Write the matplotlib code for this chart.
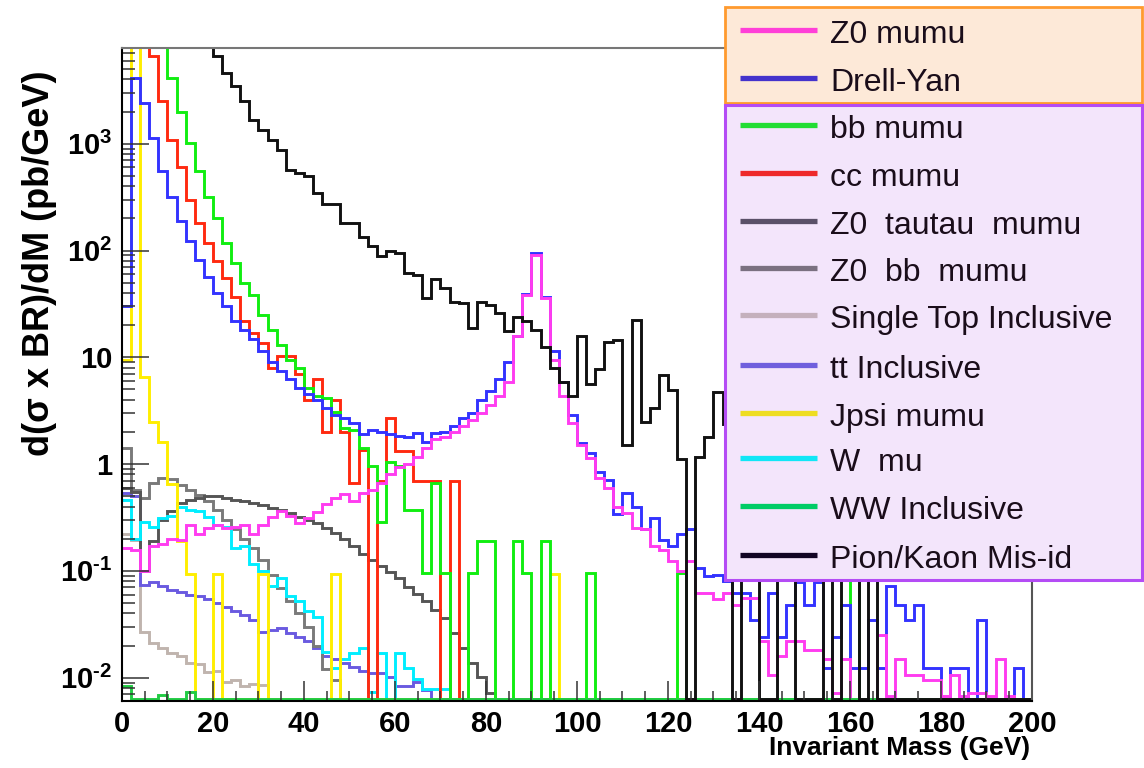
import numpy as np
import matplotlib
matplotlib.use('Agg')
import matplotlib.pyplot as plt
from matplotlib.ticker import MultipleLocator, FixedLocator, FuncFormatter, LogLocator, NullFormatter
from matplotlib.patches import Rectangle
from matplotlib.lines import Line2D

# 2 GeV bins from 0 to 200 GeV, values in pb/GeV (0 = empty bin)
bin_edges = list(range(0, 202, 2))

pion_kaon = [
    60000, 45000, 35000, 28000, 22000, 17000, 14000, 11000, 9500, 8500,
    6600, 4600, 3450, 2500, 1680, 1350, 1090, 880, 570, 530,
    495, 345, 270, 275, 180, 180, 134, 110, 88, 100,
    95, 61, 59, 36, 54, 45, 33, 32, 19, 33,
    31, 26, 17.5, 24, 22, 18, 12.4, 8.0, 5.9, 4.3,
    15.7, 5.6, 7.8, 13.8, 14.4, 1.5, 22.5, 2.5, 3.35, 6.9,
    4.9, 1.12, 0, 1.17, 1.8, 4.7, 2.35, 0, 1.5, 0.8,
    0, 0, 1.2, 0.6, 0, 0, 0, 0.5, 0, 0.7,
    0.4, 0, 0.3] + [0] * 17

bb_mumu = [
    30000, 22000, 16000, 11000, 8300, 4100, 2000, 1015, 550, 320,
    200, 117, 76, 50, 38.5, 25, 18, 13, 9.5, 8.0,
    5.2, 4.3, 4.2, 3.1, 2.2, 2.1, 1.4, 0.95, 0.29, 1.05,
    0.95, 0.37, 0.37, 0.095, 0.66, 0.095, 0, 0, 0.095, 0.19,
    0.19, 0, 0, 0.19, 0.095, 0, 0.19, 0, 0, 0,
    0, 0.095, 0, 0, 0, 0, 0, 0, 0, 0,
    0, 0.095, 0, 0, 0, 0, 0, 0, 0, 0,
    0, 0, 0, 0, 0, 0, 0, 0, 0, 0,
    0.19] + [0] * 19

cc_mumu = [
    40000, 20000, 9000, 6600, 2500, 1090, 610, 300, 180, 117,
    79, 55, 37, 22, 17, 13.5, 7.9, 10.3, 10.3, 7.0,
    4.0, 6.2, 2.0, 4.0, 2.0, 0.66, 1.36, 0, 0.69, 2.7,
    1.32, 1.32, 0.69, 0.69, 0.69, 0, 0.69] + [0] * 63

drell_yan = [
    30, 4100, 2400, 1130, 550, 320, 187, 122, 82, 57,
    40, 30, 22, 18, 15, 11.4, 9.1, 7.5, 6.3, 5.2,
    4.5, 4.0, 3.35, 2.9, 2.7, 2.4, 1.9, 2.1, 2.0, 1.9,
    1.85, 1.8, 1.95, 1.6, 1.95, 2.0, 2.25, 2.7, 3.0, 4.0,
    4.8, 6.2, 9.1, 16, 39, 95, 37, 11.4, 5.9, 2.9,
    1.57, 1.26, 0.85, 0.71, 0.34, 0.54, 0.40, 0.245, 0.31, 0.195,
    0.17, 0.22, 0.245, 0.107, 0.09, 0.092, 0.08, 0.062, 0.062, 0.035,
    0.024, 0.062, 0.024, 0.048, 0.079, 0.048, 0.079, 0.0124, 0.024, 0.048,
    0.0124, 0.0124, 0.035, 0.0124, 0.072, 0.048, 0.035, 0.048, 0.0124, 0.0124,
    0, 0.0124, 0.0124, 0, 0.035, 0, 0, 0, 0.0124, 0]

z0_mumu = [
    0.164, 0.158, 0.1, 0.17, 0.18, 0.2, 0.195, 0.27, 0.22, 0.25,
    0.27, 0.25, 0.26, 0.27, 0.22, 0.27, 0.32, 0.36, 0.33, 0.28,
    0.31, 0.355, 0.42, 0.48, 0.52, 0.45, 0.54, 0.575, 0.66, 0.8,
    0.93, 1.0, 1.17, 1.42, 1.7, 1.8, 2.0, 2.25, 2.6, 3.0,
    3.6, 4.3, 5.9, 15.7, 38, 91, 36, 9.5, 4.3, 2.4,
    1.5, 1.14, 0.74, 0.6, 0.40, 0.35, 0.25, 0.245, 0.17, 0.158,
    0.123, 0.1, 0.123, 0.062, 0.062, 0.054, 0.062, 0.048, 0.056, 0.056,
    0.022, 0.0106, 0.016, 0.022, 0.022, 0.018, 0.018, 0.015, 0.0072, 0.015,
    0, 0, 0, 0.025, 0.0068, 0.015, 0.0106, 0.0106, 0.0095, 0.0095,
    0.0068, 0.0106, 0.0068, 0.0072, 0.0072, 0.0068, 0.015, 0.0068, 0, 0]

z0_tautau = [
    0.6, 0.55, 0.1, 0.19, 0.30, 0.36, 0.43, 0.46, 0.48, 0.50,
    0.50, 0.48, 0.46, 0.45, 0.43, 0.41, 0.39, 0.37, 0.35, 0.32,
    0.30, 0.28, 0.25, 0.225, 0.20, 0.17, 0.145, 0.127, 0.11, 0.097,
    0.086, 0.071, 0.061, 0.052, 0.043, 0.036, 0.026, 0.019, 0.0137, 0.0101,
    0.0072] + [0] * 59

z0_bb = [
    1.4, 0.575, 0.48, 0.66, 0.74, 0.72, 0.64, 0.575, 0.51, 0.45,
    0.37, 0.30, 0.245, 0.20, 0.164, 0.127, 0.092, 0.069, 0.052, 0.04,
    0.03, 0.02, 0.012, 0.0096] + [0] * 76

single_top = [
    0.22, 0.195, 0.027, 0.021, 0.019, 0.017, 0.016, 0.0137, 0.0135, 0.0113,
    0.0115, 0.0092, 0.0096, 0.0083, 0.0088, 0.0086] + [0] * 84

tt_incl = [
    0.54, 0.5, 0.074, 0.079, 0.072, 0.066, 0.064, 0.060, 0.058, 0.054,
    0.050, 0.046, 0.042, 0.039, 0.035, 0.027, 0.028, 0.029, 0.026, 0.024,
    0.022, 0.019, 0.016, 0.015, 0.0138, 0.0125, 0.0115, 0.011, 0.011, 0.0101,
    0.0083, 0.0083, 0.0092, 0.0076] + [0] * 66

jpsi_mumu = [
    9.5, 20000, 6.5, 2.5, 1.6, 0.65, 0.19, 0.093, 0, 0,
    0.093, 0, 0, 0, 0, 0.093, 0, 0, 0, 0,
    0, 0, 0, 0.093, 0, 0, 0, 0, 0, 0,
    0, 0, 0, 0, 0, 0, 0, 0, 0, 0,
    0, 0, 0, 0, 0, 0, 0, 0.093] + [0] * 52

w_mu = [
    0.46, 0.20, 0.29, 0.26, 0.31, 0.33, 0.40, 0.37, 0.36, 0.32,
    0.27, 0.26, 0.164, 0.17, 0.116, 0.1, 0.072, 0.086, 0.058, 0.052,
    0.042, 0.037, 0.0174, 0.0124, 0.015, 0.017, 0.019, 0.0074, 0.017, 0,
    0.017, 0.0124, 0.0097, 0.0079, 0.0079, 0.0079] + [0] * 64

ww_incl = [0.0083, 0, 0, 0, 0.0069, 0, 0, 0.0074] + [0] * 92

# drawing order (last is on top)
hists = [
    (single_top, '#c0b4ae'),
    (tt_incl, '#6a5ae0'),
    (z0_bb, '#7a7a7a'),
    (z0_tautau, '#555555'),
    (w_mu, '#00eeff'),
    (jpsi_mumu, '#ffee00'),
    (cc_mumu, '#ff2a10'),
    (bb_mumu, '#11ee11'),
    (drell_yan, '#3333ff'),
    (z0_mumu, '#ff3cf0'),
    (ww_incl, '#22cc44'),
    (pion_kaon, '#111111'),
]

legend_labels = ['Z0 mumu', 'Drell-Yan', 'bb mumu', 'cc mumu', 'Z0  tautau  mumu',
                 'Z0  bb  mumu', 'Single Top Inclusive', 'tt Inclusive', 'Jpsi mumu',
                 'W  mu', 'WW Inclusive', 'Pion/Kaon Mis-id']
legend_colors = ['#ff3fd8', '#4433cc', '#22dd33', '#ee2a2a', '#5a5068', '#7a7080',
                 '#c4b0bc', '#6f5fdd', '#eedd22', '#11e6f6', '#00cc66', '#120524']

plt.rcParams['font.family'] = ['Liberation Sans', 'DejaVu Sans']
plt.rcParams['font.weight'] = 'bold'
plt.rcParams['mathtext.fontset'] = 'custom'
plt.rcParams['mathtext.rm'] = 'Liberation Sans:bold'
plt.rcParams['mathtext.bf'] = 'Liberation Sans:bold'
plt.rcParams['mathtext.default'] = 'bf'

W, H = 1144, 768
fig = plt.figure(figsize=(W / 100, H / 100), dpi=100)
ax = fig.add_axes([0.10664, 0.08659, 0.79545, 0.85156])

ymin, ymax = 10 ** -2.223, 10 ** 3.901
floor = ymin * 1.06
edges = np.array(bin_edges)
for vals, col in hists:
    v = np.clip(np.array(vals, dtype=float), floor, None)
    ax.stairs(v, edges, color=col, lw=2.1, baseline=None)

ax.set_xlim(0, 200)
ax.set_yscale('log')
ax.set_ylim(ymin, ymax)

ax.xaxis.set_major_locator(MultipleLocator(20))
ax.xaxis.set_minor_locator(MultipleLocator(5))
ax.yaxis.set_major_locator(FixedLocator([1e-2, 1e-1, 1, 10, 1e2, 1e3]))
ax.yaxis.set_minor_locator(LogLocator(base=10, subs=np.arange(2, 10), numticks=100))
ax.yaxis.set_minor_formatter(NullFormatter())


def ylab(v, pos):
    e = int(round(np.log10(v)))
    if e == 0:
        return '1'
    if e == 1:
        return '10'
    if e < 0:
        return r'$10^{\text{-}%d}$' % (-e)
    return r'$10^{%d}$' % e


ax.yaxis.set_major_formatter(FuncFormatter(ylab))
ax.tick_params(axis='x', which='major', direction='in', length=14.4, width=1.1, color='#333333', labelsize=21, pad=6)
ax.tick_params(axis='x', which='minor', direction='in', length=7.2, width=1.1, color='#333333')
ax.tick_params(axis='y', which='major', direction='in', length=19.4, width=1.1, color='#333333', labelsize=21, pad=7)
ax.tick_params(axis='y', which='minor', direction='in', length=9.4, width=1.1, color='#333333')
ax.tick_params(top=False, right=False)

for s in ['left', 'bottom']:
    ax.spines[s].set_color('black')
    ax.spines[s].set_linewidth(1.5)
ax.spines['top'].set_color('#777777')
ax.spines['right'].set_color('#555555')
ax.spines['top'].set_linewidth(1.5)
ax.spines['right'].set_linewidth(1.5)

fig.text(40 / W, 1 - 70 / H, 'd(σ x BR)/dM (pb/GeV)', rotation=90, ha='center', va='top',
         fontsize=26, fontweight='bold')
fig.text(1030 / W, 1 - 748 / H, 'Invariant Mass (GeV)', ha='right', va='center',
         fontsize=19, fontweight='bold')


def fx(x):
    return x / W


def fy(y):
    return 1 - y / H


fig.add_artist(Rectangle((fx(725), fy(103)), fx(1142) - fx(725), fy(7) - fy(103),
                         transform=fig.transFigure, facecolor='#fde9d8', edgecolor='#ff9a2e',
                         lw=2, zorder=5))
fig.add_artist(Rectangle((fx(725), fy(580)), fx(1142) - fx(725), fy(105) - fy(580),
                         transform=fig.transFigure, facecolor='#f3e5fb', edgecolor='#b44cf5',
                         lw=2.2, zorder=5))

row_y = [30, 78, 125, 173, 221, 268, 315, 365, 413, 458, 506, 555]
for lab, col, y in zip(legend_labels, legend_colors, row_y):
    fig.add_artist(Line2D([fx(740), fx(817)], [fy(y), fy(y)], transform=fig.transFigure,
                          color=col, lw=3.8, zorder=6, solid_capstyle='butt'))
    fig.text(fx(830), fy(y + 13), lab, fontsize=23, fontweight='normal', ha='left',
             va='baseline', color='#1a0d1a', zorder=6)

fig.savefig('out.png', dpi=100)
